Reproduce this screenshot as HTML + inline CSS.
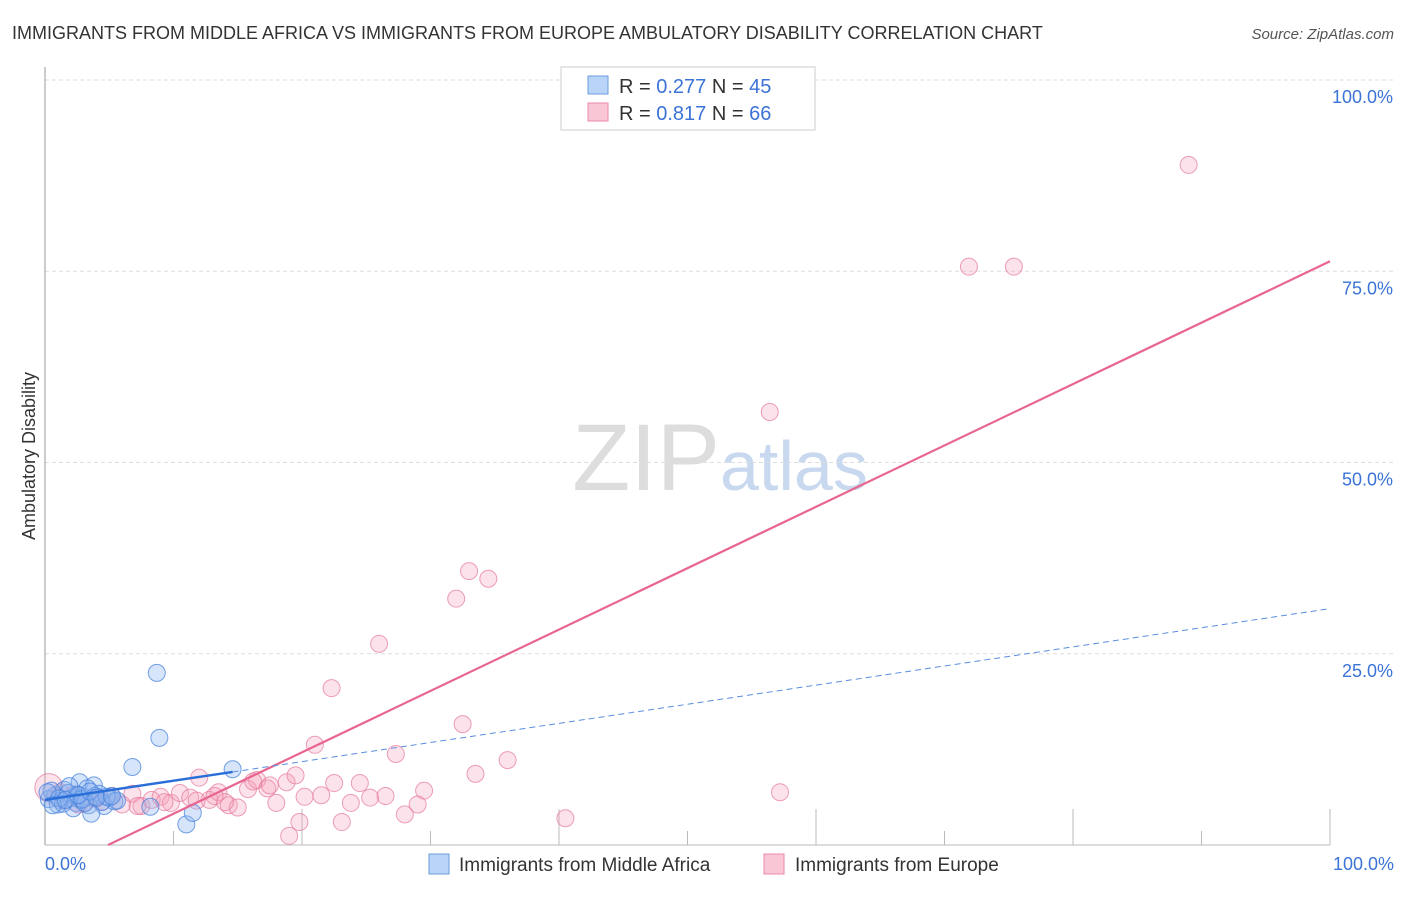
<!DOCTYPE html>
<html><head><meta charset="utf-8"><style>
body{margin:0;background:#fff;font-family:"Liberation Sans",sans-serif}
svg text{font-family:"Liberation Sans",sans-serif}
</style></head><body>
<svg id="chart" width="1406" height="892" xmlns="http://www.w3.org/2000/svg">
<text x="12" y="39" font-size="18" fill="#333">IMMIGRANTS FROM MIDDLE AFRICA VS IMMIGRANTS FROM EUROPE AMBULATORY DISABILITY CORRELATION CHART</text>
<text x="1394" y="39" font-size="15" fill="#555" font-style="italic" text-anchor="end">Source: ZipAtlas.com</text>
<text x="35" y="456" font-size="18" fill="#333" transform="rotate(-90 35 456)" text-anchor="middle">Ambulatory Disability</text>
<text x="720" y="490" font-size="95" fill="#ddd" text-anchor="end" font-family="Liberation Serif">ZIP</text>
<text x="720" y="490" font-size="70" fill="#c8d8ef">atlas</text>
<g id="grid"></g>
<g id="pts"></g>
<g id="lines"></g>
<g>
<rect x="561" y="67" width="254" height="63" fill="#fff" stroke="#ccc"/>
<rect x="588" y="76" width="20" height="18" fill="#b9d4f7" stroke="#6a9de0"/>
<rect x="588" y="103" width="20" height="18" fill="#f9c6d5" stroke="#eb8aa8"/>
<text x="619" y="93" font-size="20" fill="#333">R = <tspan fill="#3b73d6">0.277</tspan>   N = <tspan fill="#3b73d6">45</tspan></text>
<text x="619" y="120" font-size="20" fill="#333">R = <tspan fill="#3b73d6">0.817</tspan>   N = <tspan fill="#3b73d6">66</tspan></text>
</g>
<g>
<rect x="429" y="854" width="20" height="20" fill="#b9d4f7" stroke="#6a9de0"/>
<text x="459" y="871" font-size="19" fill="#333">Immigrants from Middle Africa</text>
<rect x="764" y="854" width="20" height="20" fill="#f9c6d5" stroke="#eb8aa8"/>
<text x="795" y="871" font-size="19" fill="#333">Immigrants from Europe</text>
</g>
</svg>
<script>
const yTicks=[25,50,75,100];
const yTickLabels=["25.0%","50.0%","75.0%","100.0%"];
const blueX=[8.7,8.9,6.8,14.6,11,11.5,0.3,0.8,1.2,1.5,2,2.4,2.7,3,3.4,3.8,4.2,4.6,5,5.4,0.5,1,1.8,2.2,2.8,3.3,3.9,4.4,0.2,1.4,2.5,3.6,1.9,2.9,5.6,4.8,1.1,3.1,0.6,2.6,8.2,3.5,4,1.6,5.2];
const blueY=[22.5,14,10.2,9.9,2.7,4.2,6,6.5,5.8,7.2,6.1,5.5,8.2,6.3,5.2,7.8,6.7,5.1,6.2,5.7,7.1,5.3,6.8,4.8,5.9,7.4,6.4,5.6,6.9,5.4,6.6,4.1,7.7,6,5.8,6.3,6.1,5.5,5.2,6.5,5,7,6.2,5.9,6.4];
const pinkX=[89,71.9,75.4,56.4,33,34.5,32,26,22.3,32.5,21,27.3,36,33.5,57.2,40.5,19,0.3,0.8,1.5,2.2,3,3.8,4.5,5.2,6,6.8,7.5,8.3,9,9.8,10.5,11.3,12,12.8,13.5,14.3,15,15.8,16.5,17.3,18,18.8,19.5,20.2,21.5,22.5,23.8,24.5,25.3,26.5,28,29.5,11.8,14,17.5,13.2,9.3,7.2,4,2.6,1.2,16.2,19.8,23.1,29];
const pinkY=[88.9,75.6,75.6,56.6,35.8,34.8,32.2,26.3,20.5,15.8,13.1,11.9,11.1,9.3,6.9,3.5,1.2,7.5,6.2,5.8,6.6,5.4,6.1,5.7,6.4,5.3,6.7,5.1,5.9,6.3,5.5,6.8,6.2,8.8,5.9,6.9,5.2,4.9,7.3,8.5,7.4,5.5,8.2,9.1,6.3,6.5,8.1,5.5,8.1,6.2,6.4,4,7.1,5.8,5.6,7.8,6.4,5.6,5.1,6.1,5.3,6.9,8.3,3,3,5.3];
const X0=45,X1=1330,Y0=845,Y1=80;
const sx=v=>X0+v/100*(X1-X0), sy=v=>Y0-v/100*(Y0-Y1);
const NS="http://www.w3.org/2000/svg";
function mk(t,a,p){const e=document.createElementNS(NS,t);for(const k in a)e.setAttribute(k,a[k]);p.appendChild(e);return e;}
const g=document.getElementById('grid');
yTicks.forEach((t,i)=>{
 const l=mk('line',{x1:X0,x2:1394,y1:sy(t),y2:sy(t),stroke:'#ddd','stroke-dasharray':'4 3'},g);
 
 
 const tx=mk('text',{x:1393,y:sy(t)+23,'font-size':18,fill:'#3b73d6','text-anchor':'end'},g);
 tx.textContent=yTickLabels[i];
 
 
});
mk('line',{x1:X0,x2:X0,y1:67,y2:Y0,stroke:'#999'},g);
mk('line',{x1:X0,x2:X1,y1:Y0,y2:Y0,stroke:'#bbb'},g);
for(let i=1;i<=10;i++){const x=sx(i*10);mk('line',{x1:x,x2:x,y1:Y0,y2:Y0-(i%2==0?36:14),stroke:'#bbb'},g);}
const xl=mk('text',{x:45,y:870,'font-size':18,fill:'#3b73d6'},g);xl.textContent='0.0%';


const xr=mk('text',{x:1394,y:870,'font-size':18,fill:'#3b73d6','text-anchor':'end'},g);xr.textContent='100.0%';


const p=document.getElementById('pts');
pinkX.forEach((x,i)=>{const c=mk('circle',{cx:sx(x),cy:sy(pinkY[i]),r:i==17?14:8.5,fill:'rgba(245,160,185,0.3)',stroke:'rgba(230,120,155,0.7)'},p);
 
 });
blueX.forEach((x,i)=>{const c=mk('circle',{cx:sx(x),cy:sy(blueY[i]),r:8.5,fill:'rgba(140,180,240,0.35)',stroke:'rgba(70,130,220,0.75)'},p);
 
 });
const L=document.getElementById('lines');
const pl=mk('line',{x1:sx(4.9),y1:sy(0),x2:sx(100),y2:sy(-3.9+0.802*100),stroke:'#e8658f','stroke-width':2.2},L);


const bl=mk('line',{x1:sx(0),y1:sy(5.9),x2:sx(14.6),y2:sy(5.9+0.25*14.6),stroke:'#2a6fd8','stroke-width':2.5},L);


const bd=mk('line',{x1:sx(14.6),y1:sy(5.9+0.25*14.6),x2:sx(100),y2:sy(5.9+25),stroke:'#5a8ee0','stroke-width':1,'stroke-dasharray':'6 4'},L);


</script>
</body></html>
